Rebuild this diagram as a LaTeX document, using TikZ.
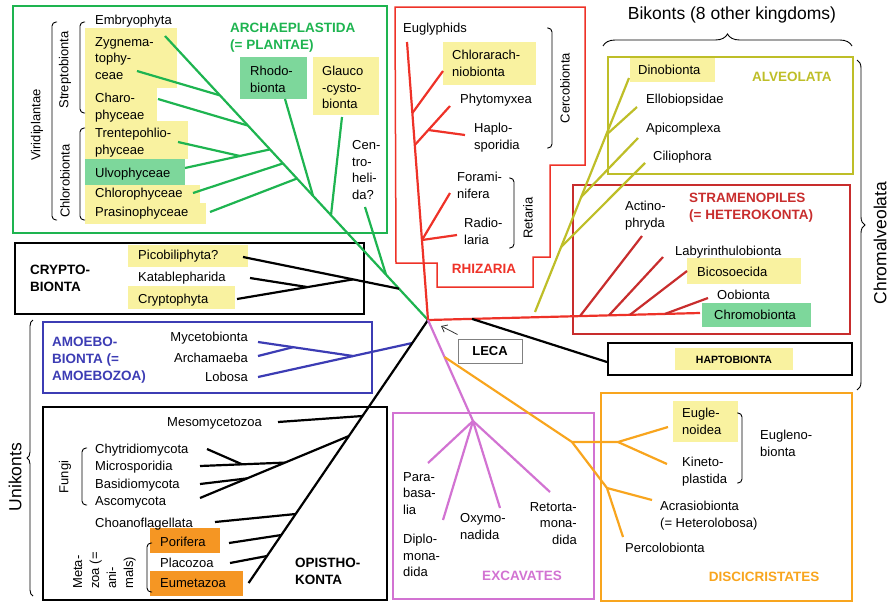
\documentclass[tikz,border=0pt]{standalone}
\usepackage{fontspec}
\setmainfont{Liberation Sans}
\usetikzlibrary{arrows.meta,decorations.pathreplacing}

\definecolor{plantgreen}{RGB}{30,180,80}
\definecolor{rhizred}{RGB}{238,50,40}
\definecolor{stramred}{RGB}{200,45,45}
\definecolor{alveolive}{RGB}{190,190,40}
\definecolor{amoebblue}{RGB}{60,60,180}
\definecolor{excpink}{RGB}{210,115,210}
\definecolor{discorange}{RGB}{248,165,30}
\definecolor{hlyellow}{RGB}{249,242,160}
\definecolor{hlgreen}{RGB}{125,215,155}
\definecolor{hlorange}{RGB}{245,150,35}

\begin{document}
\begin{tikzpicture}[x=1pt,y=-1pt,
  lbl/.style={inner sep=0pt, anchor=north west, align=left, font=\fontsize{13}{16.5}\selectfont},
  lblr/.style={lbl, anchor=north east, align=right},
  grp/.style={inner sep=0pt, anchor=north west, align=left, font=\fontsize{13.5}{17}\selectfont\bfseries},
  sidelbl/.style={inner sep=0pt, rotate=90, font=\fontsize{13}{16}\selectfont},
  biglbl/.style={inner sep=0pt, font=\fontsize{17.5}{20}\selectfont},
  branch/.style={line width=2.2pt},
  boxline/.style={line width=1.5pt},
  brk/.style={line width=0.9pt, rounded corners=4pt},
  curly/.style={line width=0.9pt, decorate, decoration={brace, amplitude=#1}},
]
\useasboundingbox (0,0) rectangle (892,603);

% highlight fills
\fill[hlyellow] (85,28) rectangle (177,88);
\fill[hlyellow] (85,88) rectangle (157,121);
\fill[hlyellow] (85,121) rectangle (188,159);
\fill[hlgreen] (85,159) rectangle (185,185);
\fill[hlyellow] (85,185) rectangle (200,203);
\fill[hlyellow] (85,203) rectangle (206,224);
\fill[hlgreen] (240,57) rectangle (307,99);
\fill[hlyellow] (313,57) rectangle (379,115);
\fill[hlyellow] (128,245) rectangle (248,267);
\fill[hlyellow] (128,286) rectangle (235,309);
\fill[hlorange] (150,528) rectangle (220,553);
\fill[hlorange] (150,571) rectangle (243,596);
\fill[hlyellow] (443,42) rectangle (536,85);
\fill[hlyellow] (630,57) rectangle (715,82);
\fill[hlyellow] (687,258) rectangle (801,284);
\fill[hlgreen] (702,303) rectangle (811,327);
\fill[hlyellow] (675,348) rectangle (793,370);
\fill[hlyellow] (673,401) rectangle (738,442);

% group frames
\draw[boxline, plantgreen] (13,6) rectangle (387,233);
\draw[boxline] (15,243) rectangle (364,314);
\draw[boxline, amoebblue] (43,322) rectangle (372,393);
\draw[boxline] (43,407) rectangle (387,600);
\draw[boxline, rhizred] (395,7) -- (585,7) -- (585,165) -- (550,165) -- (550,257) -- (533,257)
  -- (533,287) -- (437,287) -- (437,263) -- (396,263) -- cycle;
\draw[boxline, alveolive] (608,57) rectangle (853,174);
\draw[boxline, stramred] (573,185) rectangle (850,334);
\draw[boxline] (608,343) rectangle (852,375);
\draw[boxline, excpink] (393,413) rectangle (594,599);
\draw[boxline, discorange] (601,393) rectangle (852,601);

% branch points
\coordinate (leca) at (428,320);
\coordinate (gTop) at (165,36);
\coordinate (zygT) at (137,71);   \coordinate (zygJ) at (220,95.4);
\coordinate (charT) at (158,99);  \coordinate (charJ) at (248,125.6);
\coordinate (trenT) at (178,142); \coordinate (trenJ) at (240,156);
\coordinate (ulvT) at (185,168);  \coordinate (ulvJ) at (270,149.4);
\coordinate (chlT) at (193,193);  \coordinate (chlJ) at (283,163.4);
\coordinate (praT) at (210,212);  \coordinate (praJ) at (297,178.5);
\coordinate (rhoT) at (285,99);   \coordinate (rhoJ) at (313,195.8);
\coordinate (glaT) at (342,117);  \coordinate (glaJ) at (331,215.2);
\coordinate (cenT) at (365,207);  \coordinate (cenJ) at (386,274.6);
\coordinate (picT) at (243,257);  \coordinate (picJ) at (399,288.7);
\coordinate (kaT) at (250,278);   \coordinate (kaJ) at (307,287);
\coordinate (crT) at (237,299);   \coordinate (crJ) at (353,279.4);
\coordinate (myT) at (258,342);   \coordinate (myJ) at (353,356);
\coordinate (arT) at (258,356);   \coordinate (arJ) at (293,347.2);
\coordinate (loT) at (258,377);   \coordinate (loJ) at (412.3,343);
\coordinate (opEnd) at (248.6,583);
\coordinate (meT) at (278,422);   \coordinate (meJ) at (362.5,416);
\coordinate (asT) at (200,498);   \coordinate (asJ) at (348.9,436);
\coordinate (miT) at (200,466);   \coordinate (miJ) at (285,462.6);
\coordinate (chyT) at (207,449);  \coordinate (chyJ) at (242,464.3);
\coordinate (baT) at (200,484);   \coordinate (baJ) at (247,478.4);
\coordinate (choT) at (215,522);  \coordinate (choJ) at (295.7,514);
\coordinate (poT) at (229,543);   \coordinate (poJ) at (281.4,535);
\coordinate (plT) at (230,563);   \coordinate (plJ) at (267,556);
\coordinate (rTop) at (407,42);
\coordinate (claT) at (443,71);   \coordinate (claJ) at (412.4,113);
\coordinate (phT) at (450,106);   \coordinate (phJ) at (414.8,145);
\coordinate (haT) at (465,135);   \coordinate (haJ) at (428.3,130);
\coordinate (foT) at (450,193);   \coordinate (foJ) at (422,240);
\coordinate (raT) at (457,235);
\coordinate (strEnd) at (700,313);
\coordinate (acT) at (642,236);   \coordinate (acJ) at (580,316.1);
\coordinate (laT) at (663,257);   \coordinate (laJ) at (609,315.3);
\coordinate (biT) at (687,271);   \coordinate (biJ) at (630,314.8);
\coordinate (ooT) at (708,298);   \coordinate (ooJ) at (665,313.9);
\coordinate (haptJ) at (472,318.9); \coordinate (haptEnd) at (607,362);
\coordinate (aTop) at (629,78);   \coordinate (aEnd) at (535,312);
\coordinate (elT) at (637,107);   \coordinate (elJ) at (606.1,135);
\coordinate (apT) at (638,138);   \coordinate (apJ) at (581.2,197);
\coordinate (ciT) at (645,163);   \coordinate (ciJ) at (561.1,247);
\coordinate (exJ) at (473,421);
\coordinate (paT) at (428,463);   \coordinate (diT) at (443,520);
\coordinate (oxT) at (500,508);   \coordinate (reT) at (550,492);
\coordinate (orJ) at (444.5,357);
\coordinate (dJ) at (572,442);    \coordinate (euJ) at (618,442);
\coordinate (eunT) at (668,427);  \coordinate (kiT) at (667,464);
\coordinate (acrJ) at (607,488);  \coordinate (acrT) at (652,500);
\coordinate (peT) at (623,537);

% Archaeplastida
\draw[branch, plantgreen] (gTop) -- (leca);
\foreach \t/\j in {zygT/zygJ, charT/charJ, trenT/trenJ, ulvT/ulvJ, chlT/chlJ,
  praT/praJ, rhoT/rhoJ, glaT/glaJ, cenT/cenJ}
  \draw[branch, plantgreen] (\t) -- (\j);

% Cryptobionta
\foreach \t/\j in {picT/picJ, kaT/kaJ, crT/crJ}
  \draw[branch] (\t) -- (\j);

% Amoebobionta
\foreach \t/\j in {myT/myJ, arT/arJ, loT/loJ}
  \draw[branch, amoebblue] (\t) -- (\j);

% Opisthokonta
\draw[branch] (leca) -- (opEnd);
\foreach \t/\j in {meT/meJ, asT/asJ, miT/miJ, chyT/chyJ, baT/baJ, choT/choJ, poT/poJ, plT/plJ}
  \draw[branch] (\t) -- (\j);

% Rhizaria
\draw[branch, rhizred] (rTop) -- (leca);
\foreach \t/\j in {claT/claJ, phT/phJ, haT/haJ, foT/foJ, raT/foJ}
  \draw[branch, rhizred] (\t) -- (\j);

% Stramenopiles and Haptobionta
\draw[branch, rhizred] (leca) -- (strEnd);
\foreach \t/\j in {acT/acJ, laT/laJ, biT/biJ, ooT/ooJ}
  \draw[branch, stramred] (\t) -- (\j);
\draw[branch] (haptJ) -- (haptEnd);

% Alveolata
\draw[branch, alveolive] (aTop) -- (aEnd);
\foreach \t/\j in {elT/elJ, apT/apJ, ciT/ciJ}
  \draw[branch, alveolive] (\t) -- (\j);

% Excavates
\draw[branch, excpink] (leca) -- (exJ);
\foreach \t in {paT, diT, oxT, reT}
  \draw[branch, excpink] (exJ) -- (\t);

% Discicristates
\draw[branch, discorange] (orJ) -- (dJ) -- (euJ) -- (eunT);
\draw[branch, discorange] (euJ) -- (kiT);
\draw[branch, discorange] (dJ) -- (acrJ) -- (peT);
\draw[branch, discorange] (acrJ) -- (acrT);

% brackets
\draw[brk] (57,22) -- (52,22) -- (52,220) -- (57,220);
\draw[brk] (85,22) -- (80,22) -- (80,113) -- (85,113);
\draw[brk] (85,128) -- (80,128) -- (80,220) -- (85,220);
\draw[brk] (87,448) -- (82,448) -- (82,505) -- (87,505);
\draw[brk] (152,543) -- (147,543) -- (147,592) -- (152,592);
\draw[brk] (547,28) -- (552,28) -- (552,148) -- (547,148);
\draw[brk] (509,178) -- (514,178) -- (514,248) -- (509,248);
\draw[brk] (737,413) -- (742,413) -- (742,483) -- (737,483);
\draw[curly=12pt] (603,46) -- (852,46);
\draw[curly=8pt] (857,60) -- (857,390);
\draw[curly=6pt] (33,596) -- (33,320);

% Archaeplastida labels
\node[lbl] (emb) at (95,15.3) {Embryophyta};
\node[lbl] (zyg) at (95,37.3) {Zygnema-\\tophy-\\ceae};
\node[lbl] (charo) at (95,93.3) {Charo-\\phyceae};
\node[lbl] (trente) at (95,128.3) {Trentepohlio-\\phyceae};
\node[lbl] (ulvo) at (95,168.3) {Ulvophyceae};
\node[lbl] (chloro) at (95,188.3) {Chlorophyceae};
\node[lbl] (prasino) at (95,207.3) {Prasinophyceae};
\node[lbl] (rhodo) at (250,66.3) {Rhodo-\\bionta};
\node[lbl] (glauco) at (322,66.3) {Glauco\\-cysto-\\bionta};
\node[lbl] (centro) at (352,140.3) {Cen-\\tro-\\heli-\\da?};
\node[grp, plantgreen] (archae) at (230,23.3) {ARCHAEPLASTIDA\\(= PLANTAE)};
\node[sidelbl] (viridi) at (37,125) {Viridiplantae};
\node[sidelbl] (strepto) at (65,70) {Streptobionta};
\node[sidelbl] (chlorob) at (65,181) {Chlorobionta};

% Cryptobionta labels
\node[grp] (cryptolbl) at (30,265.3) {CRYPTO-\\BIONTA};
\node[lbl] (pico) at (138,250.3) {Picobiliphyta?};
\node[lbl] (kata) at (138,272.3) {Katablepharida};
\node[lbl] (cryptophyta) at (138,294.3) {Cryptophyta};

% Amoebobionta labels
\node[grp, amoebblue] (amoelbl) at (52,337.3) {AMOEBO-\\BIONTA (=\\AMOEBOZOA)};
\node[lblr] (myceto) at (248,332.3) {Mycetobionta};
\node[lblr] (archam) at (248,353.3) {Archamaeba};
\node[lblr] (lobosa) at (248,372.3) {Lobosa};

% Opisthokonta labels
\node[lbl] (meso) at (167,417.3) {Mesomycetozoa};
\node[lbl] (chytrid) at (95,444.3) {Chytridiomycota};
\node[lbl] (micro) at (95,461.3) {Microsporidia};
\node[lbl] (basid) at (95,479.3) {Basidiomycota};
\node[lbl] (asco) at (95,496.3) {Ascomycota};
\node[lbl] (choano) at (95,518.3) {Choanoflagellata};
\node[lbl] (porifera) at (160,537.3) {Porifera};
\node[lbl] (placo) at (160,558.3) {Placozoa};
\node[lbl] (eumeta) at (160,578.3) {Eumetazoa};
\node[grp] (opistholbl) at (295,558.3) {OPISTHO-\\KONTA};
\node[sidelbl] (fungi) at (65,477) {Fungi};
\node[sidelbl, anchor=north west, align=left, font=\fontsize{13}{17}\selectfont] (metazoa) at (73,589)
  {Meta-\\zoa (=\\ani-\\mals)};
\node[biglbl, rotate=90] (unikonts) at (15,477) {Unikonts};

% Rhizaria labels
\node[lbl] (eugly) at (403,23.3) {Euglyphids};
\node[lbl] (chlorar) at (452,50.3) {Chlorarach-\\niobionta};
\node[lbl] (phyto) at (460,94.3) {Phytomyxea};
\node[lbl] (haplo) at (474,123.3) {Haplo-\\sporidia};
\node[lbl] (forami) at (457,172.3) {Forami-\\nifera};
\node[lbl] (radio) at (464,218.3) {Radio-\\laria};
\node[sidelbl] (cerco) at (565,88) {Cercobionta};
\node[sidelbl] (retaria) at (528,218) {Retaria};
\node[grp, anchor=center, rhizred] (rhizlbl) at (484,269) {RHIZARIA};

% Bikont labels
\node[biglbl] (bikonts) at (732,15) {Bikonts (8 other kingdoms)};
\node[biglbl, rotate=90] (chromalv) at (880,243) {Chromalveolata};
\node[grp, alveolive] (alveolbl) at (752,72.3) {ALVEOLATA};
\node[lbl] (dino) at (638,65.3) {Dinobionta};
\node[lbl] (ellob) at (646,94.3) {Ellobiopsidae};
\node[lbl] (apico) at (646,123.3) {Apicomplexa};
\node[lbl] (cilio) at (653,151.3) {Ciliophora};
\node[grp, stramred] (stramlbl) at (689,193.3) {STRAMENOPILES\\(= HETEROKONTA)};
\node[lbl] (actino) at (625,201.3) {Actino-\\phryda};
\node[lbl] (labyr) at (675,246.3) {Labyrinthulobionta};
\node[lbl] (bicoso) at (697,267.3) {Bicosoecida};
\node[lbl] (oobi) at (717,290.3) {Oobionta};
\node[lbl] (chromo) at (714,310.3) {Chromobionta};
\node[inner sep=0pt, font=\fontsize{10.5}{12}\selectfont\bfseries] (hapto) at (734,360) {HAPTOBIONTA};

% Excavates labels
\node[lbl] (para) at (403,472.3) {Para-\\basa-\\lia};
\node[lbl] (diplo) at (403,534.3) {Diplo-\\mona-\\dida};
\node[lbl] (oxymo) at (460,513.3) {Oxymo-\\nadida};
\node[lblr] (retorta) at (577,502.3) {Retorta-\\mona-\\dida};
\node[grp, anchor=center, excpink] (exclbl) at (522,576) {EXCAVATES};

% Discicristates labels
\node[lbl] (euglenoidea) at (682,408.3) {Eugle-\\noidea};
\node[lbl] (kineto) at (682,457.3) {Kineto-\\plastida};
\node[lbl] (euglenob) at (760,430.3) {Eugleno-\\bionta};
\node[lbl] (acras) at (660,501.3) {Acrasiobionta\\(= Heterolobosa)};
\node[lbl] (percolo) at (625,543.3) {Percolobionta};
\node[grp, anchor=center, discorange] (disclbl) at (764,577) {DISCICRISTATES};

% LECA
\node[draw=gray, line width=1pt, minimum width=64pt, minimum height=24pt, inner sep=0pt,
  font=\fontsize{13}{16}\selectfont\bfseries] (lecabox) at (490,351) {LECA};
\coordinate (lecaTip) at (441,326);
\draw[line width=0.8pt, black!80, -{Straight Barb[length=5pt,width=8pt]}]
  ([yshift=4pt]lecabox.north west) -- (lecaTip);
\end{tikzpicture}
\end{document}
